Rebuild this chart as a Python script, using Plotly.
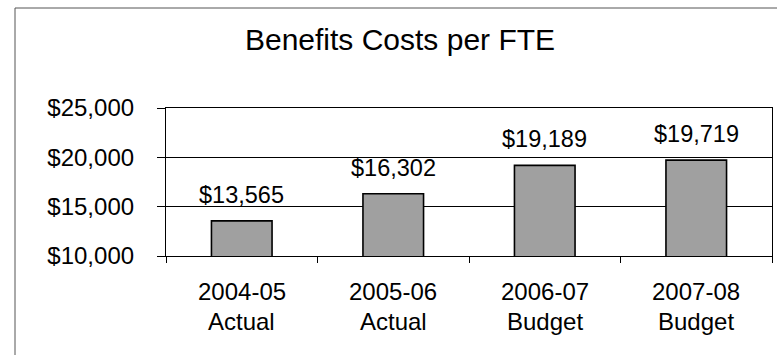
import plotly.graph_objects as go

# Data
years = ["2004-05", "2005-06", "2006-07", "2007-08"]
kinds = ["Actual", "Actual", "Budget", "Budget"]
costs = [13565, 16302, 19189, 19719]
y_ticks = [10000, 15000, 20000, 25000]

FONT = "Liberation Sans, Arial, sans-serif"
W, H = 777, 355
M_L, M_R, M_T, M_B = 166, 5, 108, 99

fig = go.Figure()
fig.add_trace(go.Bar(
    x=years,
    y=costs,
    base=0,
    width=0.4,
    marker=dict(color="#a0a0a0", line=dict(color="#000000", width=1.6)),
    hoverinfo="skip",
))

annotations = []
# value labels above each bar
for yr, v in zip(years, costs):
    annotations.append(dict(
        x=yr, y=v, xref="x", yref="y", text=f"${v:,}",
        showarrow=False, yanchor="bottom", yshift=11,
        font=dict(family=FONT, size=23.5, color="#000"),
    ))
# two-line category labels under the axis
for yr, k in zip(years, kinds):
    annotations.append(dict(
        x=yr, y=0, xref="x", yref="paper", text=yr,
        showarrow=False, yanchor="middle", yshift=-35,
        font=dict(family=FONT, size=24, color="#000"),
    ))
    annotations.append(dict(
        x=yr, y=0, xref="x", yref="paper", text=k,
        showarrow=False, yanchor="middle", yshift=-65,
        font=dict(family=FONT, size=24, color="#000"),
    ))

pw = W - M_L - M_R
ph = H - M_T - M_B
fig.update_layout(
    width=W, height=H,
    margin=dict(l=M_L, r=M_R, t=M_T, b=M_B, pad=0),
    paper_bgcolor="white", plot_bgcolor="white",
    showlegend=False,
    title=dict(
        text="Benefits Costs per FTE",
        x=(400) / W, xanchor="center",
        y=1 - 39 / H, yanchor="middle",
        font=dict(family=FONT, size=30, color="#000"),
    ),
    annotations=annotations,
    shapes=[dict(
        type="rect", xref="paper", yref="paper",
        x0=(15 - M_L) / pw, x1=(800 - M_L) / pw,
        y0=-(400 - (H - M_B)) / ph, y1=((H - M_B) - 8) / ph,
        line=dict(color="#555555", width=1),
    )],
    xaxis=dict(
        type="category",
        showticklabels=False,
        showline=True, linecolor="#000", linewidth=1.2, mirror=True,
        ticks="outside", ticklen=6, tickcolor="#000", tickson="boundaries",
        showgrid=False,
    ),
    yaxis=dict(
        range=[10000, 25000],
        tickvals=y_ticks,
        ticktext=[f"${v:,}" for v in y_ticks],
        tickfont=dict(family=FONT, size=24, color="#000"),
        ticklabelstandoff=18,
        showline=True, linecolor="#000", linewidth=1.2, mirror=True,
        ticks="outside", ticklen=8, tickcolor="#000",
        showgrid=True, gridcolor="#000", gridwidth=1,
        zeroline=False,
    ),
)

fig.write_html("out.html")
